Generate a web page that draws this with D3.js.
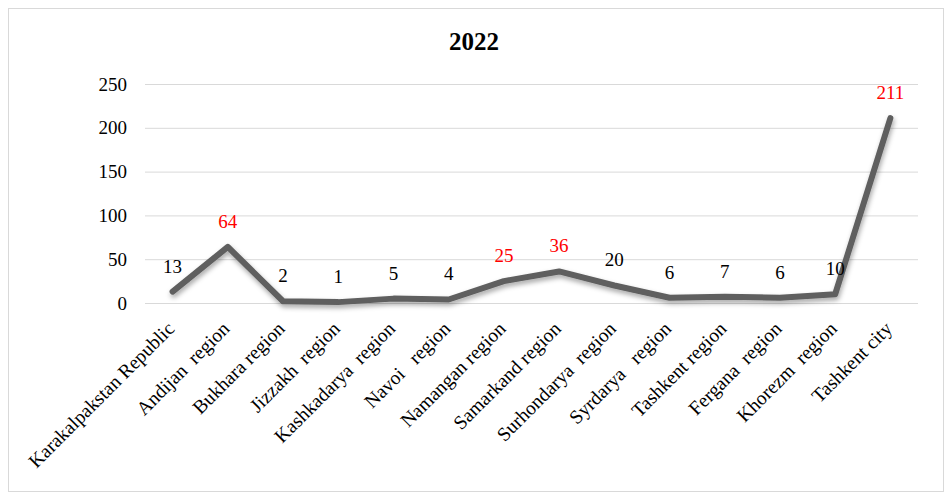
<!DOCTYPE html>
<html>
<head>
<meta charset="utf-8">
<script src="https://cdn.jsdelivr.net/npm/d3@7"></script>
<style>
    body { margin: 0; background: #fff; }
    text { font-family: "Liberation Serif", "Times New Roman", serif; }
</style>
</head>
<body>
<script>
const categories = [
    'Karakalpakstan Republic', 'Andijan  region', 'Bukhara region', 'Jizzakh  region',
    'Kashkadarya  region', 'Navoi   region', 'Namangan region', 'Samarkand region',
    'Surhondarya  region', 'Syrdarya   region', 'Tashkent region', 'Fergana  region',
    'Khorezm  region', 'Tashkent city'
];
const values = [13, 64, 2, 1, 5, 4, 25, 36, 20, 6, 7, 6, 10, 211];
const highlighted = [64, 25, 36, 211]; // labels shown in red
const yTicks = [0, 50, 100, 150, 200, 250];

const width = 952, height = 500;
const plot = { left: 145, right: 918, top: 84, bottom: 303 };

const svg = d3.select('body').append('svg')
    .attr('width', width)
    .attr('height', height);

const defs = svg.append('defs');
const shadow = defs.append('filter')
    .attr('id', 'shadow')
    .attr('x', '-10%').attr('y', '-10%')
    .attr('width', '120%').attr('height', '130%');
shadow.append('feDropShadow')
    .attr('dx', 1).attr('dy', 3)
    .attr('stdDeviation', 2.5)
    .attr('flood-color', '#000')
    .attr('flood-opacity', 0.35);

// chart frame
svg.append('rect')
    .attr('x', 8.5).attr('y', 8.5)
    .attr('width', 935).attr('height', 483)
    .attr('fill', '#fff')
    .attr('stroke', '#d9d9d9');

svg.append('text')
    .attr('x', 474).attr('y', 50)
    .attr('text-anchor', 'middle')
    .style('font-size', '25px')
    .style('font-weight', 'bold')
    .text('2022');

const x = d3.scaleBand()
    .domain(categories)
    .range([plot.left, plot.right]);

const y = d3.scaleLinear()
    .domain([0, 250])
    .range([plot.bottom, plot.top]);

// gridlines + y labels
const yAxis = svg.append('g')
    .attr('class', 'yaxis')
    .attr('transform', `translate(${plot.left},0)`)
    .call(d3.axisLeft(y).tickValues(yTicks).tickSize(-(plot.right - plot.left)).tickPadding(18));
yAxis.select('.domain').remove();
yAxis.selectAll('line').attr('stroke', '#d9d9d9');
yAxis.selectAll('text')
    .attr('fill', '#000')
    .style('font-size', '19px')
    .style('font-family', '"Liberation Serif", serif');

// category labels
const xAxis = svg.append('g')
    .attr('class', 'xaxis')
    .attr('transform', `translate(0,${plot.bottom})`)
    .call(d3.axisBottom(x).tickSize(0).tickPadding(0));
xAxis.select('.domain').remove();
xAxis.selectAll('text')
    .attr('fill', '#000')
    .style('font-size', '19.5px')
    .style('font-family', '"Liberation Serif", serif')
    .style('white-space', 'pre')
    .attr('text-anchor', 'end')
    .attr('y', 0)
    .attr('dy', '0.72em')
    .attr('transform', 'translate(-7,17) rotate(-45)');

const line = d3.line()
    .x((d, i) => x(categories[i]) + x.bandwidth() / 2)
    .y(d => y(d));

svg.append('path')
    .datum(values)
    .attr('d', line)
    .attr('fill', 'none')
    .attr('stroke', '#5f5f5f')
    .attr('stroke-width', 6)
    .attr('stroke-linejoin', 'round')
    .attr('stroke-linecap', 'round')
    .attr('filter', 'url(#shadow)');

svg.append('g')
    .attr('class', 'labels')
    .selectAll('text')
    .data(values)
    .enter()
    .append('text')
    .attr('x', (d, i) => x(categories[i]) + x.bandwidth() / 2)
    .attr('y', d => y(d) - 19)
    .attr('text-anchor', 'middle')
    .style('font-size', '19px')
    .attr('fill', d => highlighted.includes(d) ? '#ff0000' : '#000')
    .text(d => d);
</script>
</body>
</html>
